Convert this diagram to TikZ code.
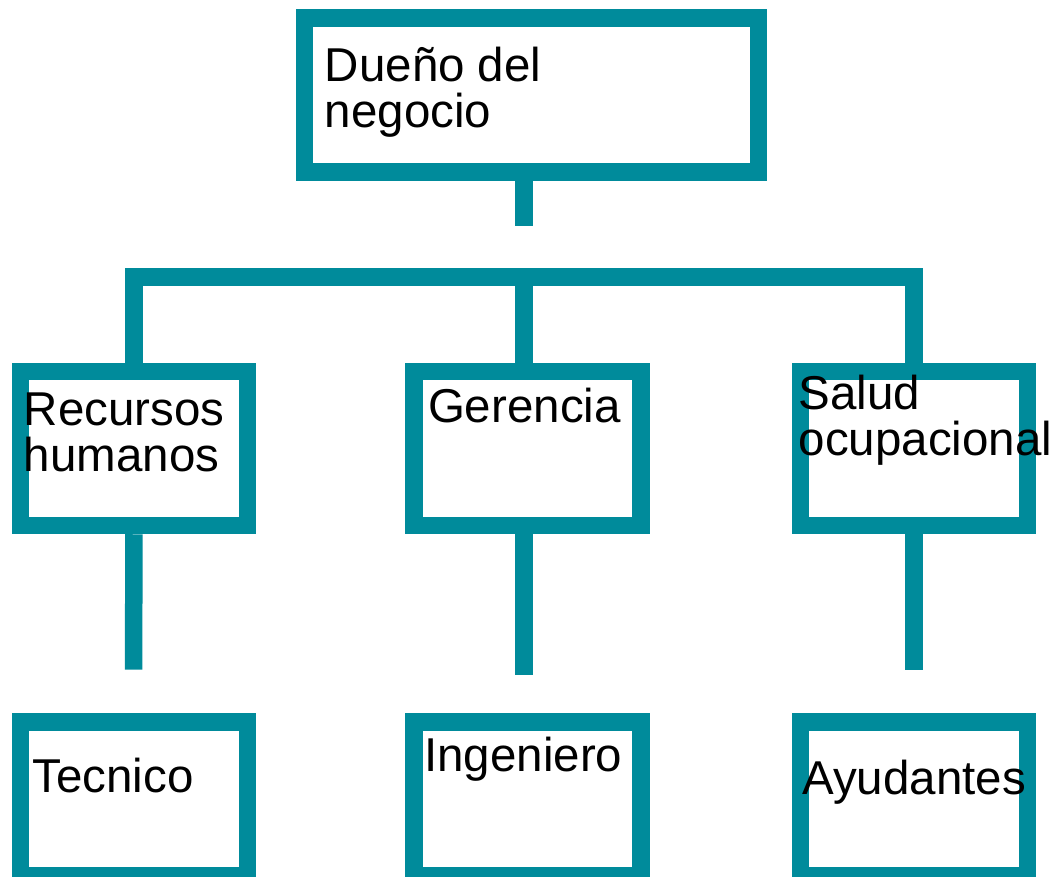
\documentclass[tikz,border=0pt]{standalone}
\usepackage{fontspec}
\setmainfont{Liberation Sans}
\usetikzlibrary{positioning,calc}
\definecolor{orgteal}{RGB}{0,139,155}

\begin{document}
\begin{tikzpicture}[x=1pt,y=-1pt,
    box/.style={draw=orgteal,line width=17.5pt,rectangle,inner sep=0pt,minimum width=227pt,minimum height=154.2pt},
    link/.style={draw=orgteal,line width=17.5pt},
    lbl/.style={anchor=base west,inner sep=0pt,align=left,font=\fontsize{47.5}{46}\selectfont}]
    \useasboundingbox (0,0) rectangle (1061,877);

    % Boxes
    \node[box,minimum width=454.4pt] (owner) at (531.5,95) {};
    \node[box] (rrhh) at (133.8,448.4) {};
    \node[box] (gerencia) at (527.5,448.4) {};
    \node[box] (salud) at (913.8,448.4) {};
    \node[box] (tecnico) at (133.8,799) {};
    \node[box] (ingeniero) at (527.5,799) {};
    \node[box] (ayudantes) at (913.8,799) {};

    % Labels (base = last line)
    \node[lbl] (lowner) at (324.7,127.7) {Dueño del\\negocio};
    \node[lbl] (lrrhh) at (23.6,471.7) {Recursos\\humanos};
    \node[lbl] (lgerencia) at (427.8,422.7) {Gerencia};
    \node[lbl] (lsalud) at (798.5,455) {Salud\\ocupacional};
    \node[lbl] (ltecnico) at (32.4,792.7) {Tecnico};
    \node[lbl] (lingeniero) at (424,771.7) {Ingeniero};
    \node[lbl] (layudantes) at (802,794) {Ayudantes};

    % Connectors
    \coordinate (stub) at (524,225.7);
    \coordinate (busM) at (524,277);
    \coordinate (busR) at (914,277);
    \coordinate (endL) at (133.7,669.7);
    \coordinate (endM) at (524,675);
    \coordinate (endR) at (914,669.7);

    \draw[link] (owner.south -| stub) -- (stub);
    \draw[link] (rrhh.north) |- (busR) -- (salud.north -| busR);
    \draw[link] (busM) -- (gerencia.north -| busM);
    \draw[link] (rrhh.south) -- (endL);
    \draw[link] (gerencia.south -| endM) -- (endM);
    \draw[link] (salud.south -| endR) -- (endR);
\end{tikzpicture}
\end{document}
